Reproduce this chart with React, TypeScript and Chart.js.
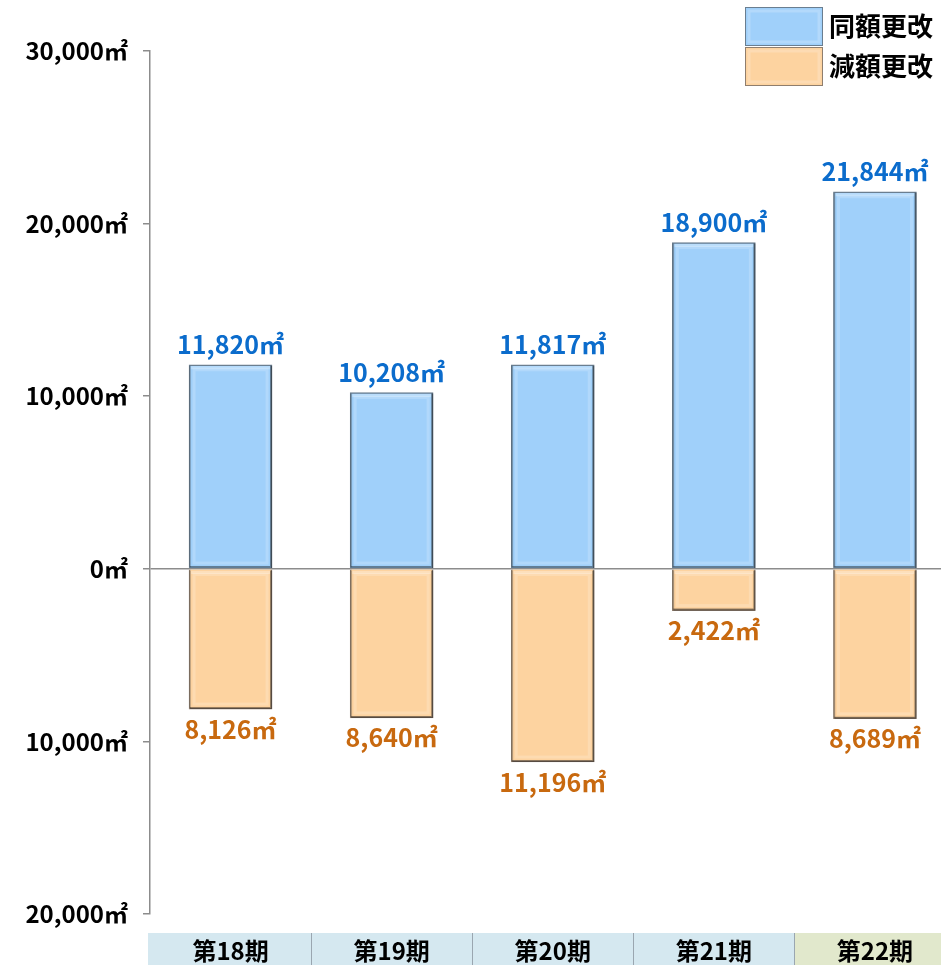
import { useEffect, useRef } from 'react';
import { Chart, registerables } from 'chart.js';
Chart.register(...registerables);

const categories = ['第18期', '第19期', '第20期', '第21期', '第22期'];
const sameAmount = [11820, 10208, 11817, 18900, 21844];
const reducedAmount = [-8126, -8640, -11196, -2422, -8689];
const seriesNames = ['同額更改', '減額更改'];
const yTicks = [-20000, -10000, 0, 10000, 20000, 30000];

const FONT = '"Noto Sans CJK JP", "Noto Sans", sans-serif';
const BLUE = '#a0d0fa';
const ORANGE = '#fdd3a0';
const BLUE_TEXT = '#0b6ccc';
const ORANGE_TEXT = '#c8690f';

const fmt = (v: number) => Math.abs(v).toLocaleString('en-US') + '㎡';

const tablePlugin = {
  id: 'tablePlugin',
  beforeDraw(chart: any) {
    const { ctx } = chart;
    const x = chart.scales.x;
    const top = 933;
    const bottom = chart.height;
    ctx.save();
    categories.forEach((_, i) => {
      const l = i === 0 ? chart.chartArea.left - 2 : x.getPixelForValue(i - 0.5);
      const r = i === categories.length - 1 ? chart.width : x.getPixelForValue(i + 0.5);
      ctx.fillStyle = i === categories.length - 1 ? '#e1e8cc' : '#d5e8f0';
      ctx.fillRect(l, top, r - l, bottom - top);
      if (i > 0) {
        ctx.strokeStyle = '#9aa6b0';
        ctx.lineWidth = 1;
        ctx.beginPath();
        ctx.moveTo(Math.round(l) + 0.5, top);
        ctx.lineTo(Math.round(l) + 0.5, bottom);
        ctx.stroke();
      }
    });
    ctx.restore();
  },
};

const bevelPlugin = {
  id: 'bevelPlugin',
  afterDatasetsDraw(chart: any) {
    const { ctx } = chart;
    ctx.save();
    chart.data.datasets.forEach((_: any, di: number) => {
      const meta = chart.getDatasetMeta(di);
      meta.data.forEach((el: any) => {
        const l = el.x - el.width / 2;
        const r = el.x + el.width / 2;
        const t = Math.min(el.y, el.base);
        const b = Math.max(el.y, el.base);
        ctx.strokeStyle = 'rgba(255,255,255,0.18)';
        ctx.lineWidth = 3;
        ctx.strokeRect(l + 5, t + 5, r - l - 10, b - t - 10);
        ctx.fillStyle = 'rgba(255,255,255,0.3)';
        ctx.fillRect(l + 2, t + 1.5, r - l - 4, 3);
        ctx.strokeStyle = 'rgba(0,0,0,0.4)';
        ctx.lineWidth = 2;
        ctx.beginPath();
        ctx.moveTo(r - 1, t + 1);
        ctx.lineTo(r - 1, b - 1);
        ctx.lineTo(l + 1, b - 1);
        ctx.stroke();
        ctx.strokeStyle = 'rgba(0,0,0,0.15)';
        ctx.beginPath();
        ctx.moveTo(l + 1, t + 1);
        ctx.lineTo(l + 1, b - 1);
        ctx.stroke();
      });
    });
    ctx.restore();
  },
};

const labelsPlugin = {
  id: 'labelsPlugin',
  afterDatasetsDraw(chart: any) {
    const { ctx } = chart;
    ctx.save();
    ctx.font = `bold 25px ${FONT}`;
    ctx.textAlign = 'center';
    ctx.textBaseline = 'middle';
    chart.data.datasets.forEach((ds: any, di: number) => {
      const meta = chart.getDatasetMeta(di);
      meta.data.forEach((el: any, i: number) => {
        const v = ds.data[i].y;
        if (v >= 0) {
          ctx.fillStyle = BLUE_TEXT;
          ctx.fillText(fmt(v), el.x, el.y - 20);
        } else {
          ctx.fillStyle = ORANGE_TEXT;
          ctx.fillText(fmt(v), el.x, el.y + 20);
        }
      });
    });
    ctx.restore();
  },
};

const legendPlugin = {
  id: 'legendPlugin',
  afterDraw(chart: any) {
    const { ctx } = chart;
    ctx.save();
    const boxes = [
      { y: 7, h: 39 },
      { y: 47, h: 39 },
    ];
    chart.data.datasets.forEach((ds: any, i: number) => {
      const b = boxes[i];
      ctx.fillStyle = ds.backgroundColor;
      ctx.fillRect(745, b.y, 78, b.h);
      ctx.strokeStyle = 'rgba(255,255,255,0.2)';
      ctx.lineWidth = 3;
      ctx.strokeRect(749, b.y + 4, 70, b.h - 8);
      ctx.strokeStyle = ds.borderColor;
      ctx.lineWidth = 1;
      ctx.strokeRect(745.5, b.y + 0.5, 77, b.h - 1);
      ctx.fillStyle = '#000';
      ctx.font = `bold 26px ${FONT}`;
      ctx.textAlign = 'left';
      ctx.textBaseline = 'middle';
      ctx.fillText(ds.label, 829, b.y + b.h / 2);
    });
    ctx.restore();
  },
};

export default function App() {
  const ref = useRef<HTMLCanvasElement>(null);
  useEffect(() => {
    if (!ref.current) return;
    const chart = new Chart(ref.current, {
      type: 'bar',
      data: {
        datasets: [
          {
            label: seriesNames[0],
            data: sameAmount.map((y, i) => ({ x: i, y })),
            backgroundColor: BLUE,
            borderColor: '#6a7e90',
            borderWidth: 1.5,
            barThickness: 83,
          },
          {
            label: seriesNames[1],
            data: reducedAmount.map((y, i) => ({ x: i, y })),
            backgroundColor: ORANGE,
            borderColor: '#8f7e6e',
            borderWidth: 1.5,
            barThickness: 83,
          },
        ],
      },
      options: {
        responsive: false,
        animation: false,
        layout: { padding: { top: 51, left: 0, right: 0, bottom: 0 } },
        plugins: { legend: { display: false }, tooltip: { enabled: false } },
        scales: {
          x: {
            type: 'linear',
            stacked: true,
            offset: false,
            min: -0.5,
            max: 4.41,
            grid: { display: false, drawTicks: false, offset: false },
            border: { display: false },
            afterBuildTicks: (s: any) => {
              s.ticks = categories.map((_, i) => ({ value: i }));
            },
            afterFit: (s: any) => {
              s.height = 51;
            },
            ticks: {
              padding: 22,
              color: '#000',
              font: { family: FONT, size: 24, weight: 'bold' },
              callback: (v: any) => categories[v as number] ?? '',
            },
          },
          y: {
            stacked: true,
            min: -20000,
            max: 30000,
            afterBuildTicks: (s: any) => {
              s.ticks = yTicks.map((v) => ({ value: v }));
            },
            afterFit: (s: any) => {
              s.width = 150;
            },
            border: { display: true, color: '#8c8c8c', width: 1.5 },
            grid: {
              color: (c: any) => (c.tick && c.tick.value === 0 ? '#8c8c8c' : 'rgba(0,0,0,0)'),
              lineWidth: 1.5,
              tickColor: '#8c8c8c',
              tickLength: 7,
              drawOnChartArea: true,
            },
            ticks: {
              padding: 15,
              color: '#000',
              font: { family: FONT, size: 24, weight: 'bold' },
              callback: (v: any) => fmt(v as number),
            },
          },
        },
      },
      plugins: [tablePlugin, bevelPlugin, labelsPlugin, legendPlugin],
    } as any);
    return () => chart.destroy();
  }, []);
  return (
    <div style={{ position: 'fixed', left: 0, top: 0, width: 941, height: 965, background: '#fff' }}>
      <canvas ref={ref} width={941} height={965} />
    </div>
  );
}
